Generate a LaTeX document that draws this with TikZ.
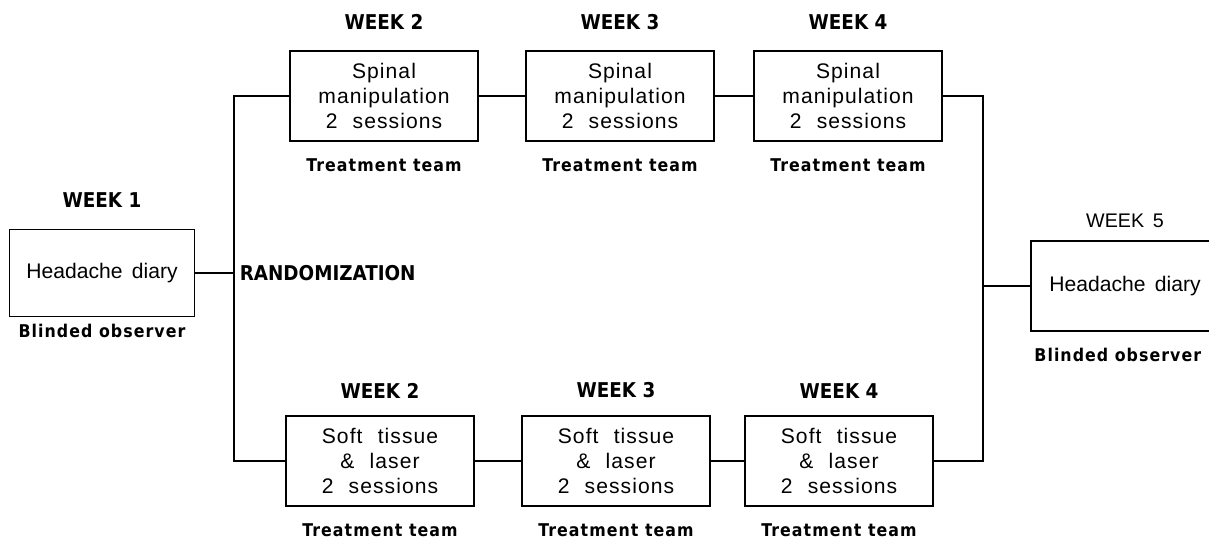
\documentclass[tikz,border=0pt]{standalone}
\usepackage{fontspec}
\setmainfont{Liberation Sans}[WordSpace=1.6]
\newfontfamily\boxfont{Liberation Sans}[LetterSpace=5, WordSpace=2.2]
\newfontfamily\wkfont{DejaVu Sans Condensed Bold}
\newfontfamily\teamfont{DejaVu Sans Condensed Bold}[LetterSpace=6]
\usepackage{tikz}
\usetikzlibrary{positioning}

\tikzset{
  trial/.style={draw, line width=1.2pt, minimum width=4.7cm, minimum height=2.25cm,
    align=center, font={\boxfont\fontsize{15}{18}\selectfont}},
  weeklab/.style={font={\wkfont\fontsize{14.5}{17}\selectfont}},
  teamlab/.style={font={\teamfont\fontsize{12.5}{15}\selectfont}},
  link/.style={line width=1.2pt}
}

\begin{document}
\begin{tikzpicture}[x=0.025cm,y=-0.025cm]
\useasboundingbox (0,0) rectangle (1209,544);

% Week 1
\node[trial, minimum width=4.62cm, minimum height=2.18cm, font=\fontsize{15}{19}\selectfont] (w1) at (102,273) {Headache diary};
\node[weeklab, above=0.4cm of w1] (w1-wk) {WEEK 1};
\node[teamlab, below=0.05cm of w1] (w1-obs) {Blinded observer};

% Spinal manipulation arm
\foreach \n/\x/\w in {2/384/t2,3/620/t3,4/848/t4} {
  \node[trial] (\w) at (\x,96) {Spinal\\manipulation\\2 sessions};
  \node[weeklab, above=0.38cm of \w] (\w-wk) {WEEK \n};
  \node[teamlab, below=0.3cm of \w] (\w-team) {Treatment team};
}

% Soft tissue arm
\foreach \n/\x/\w in {2/380/b2,3/616/b3,4/839/b4} {
  \node[trial] (\w) at (\x,461) {Soft tissue\\\& laser\\2 sessions};
  \node[weeklab, above=0.3cm of \w] (\w-wk) {WEEK \n};
  \node[teamlab, below=0.3cm of \w] (\w-team) {Treatment team};
}

% Week 5 (box runs off the page)
\node[minimum width=4.7cm, minimum height=2.25cm, font=\fontsize{15}{19}\selectfont] (w5) at (1125,286) {Headache diary};
\draw[link] (w5.north east) -- (w5.north west) -- (w5.south west) -- (w5.south east);
\node[above=0.2cm of w5, font=\fontsize{14}{17}\selectfont] (w5-wk) {WEEK 5};
\node[teamlab, below=0.3cm of w5, xshift=-0.18cm] (w5-obs) {Blinded observer};

% Connectors
\coordinate (split) at (234,273);
\coordinate (join) at (983,286);
\draw[link] (w1.east) -- (split);
\draw[link] (t2.west) -| (split) |- (b2.west);
\node[weeklab, right=0.02cm of split] (rand) {RANDOMIZATION};
\draw[link] (t2) -- (t3) (t3) -- (t4);
\draw[link] (b2) -- (b3) (b3) -- (b4);
\draw[link] (t4.east) -| (join) |- (b4.east);
\draw[link] (join) -- (w5.west);
\end{tikzpicture}
\end{document}
